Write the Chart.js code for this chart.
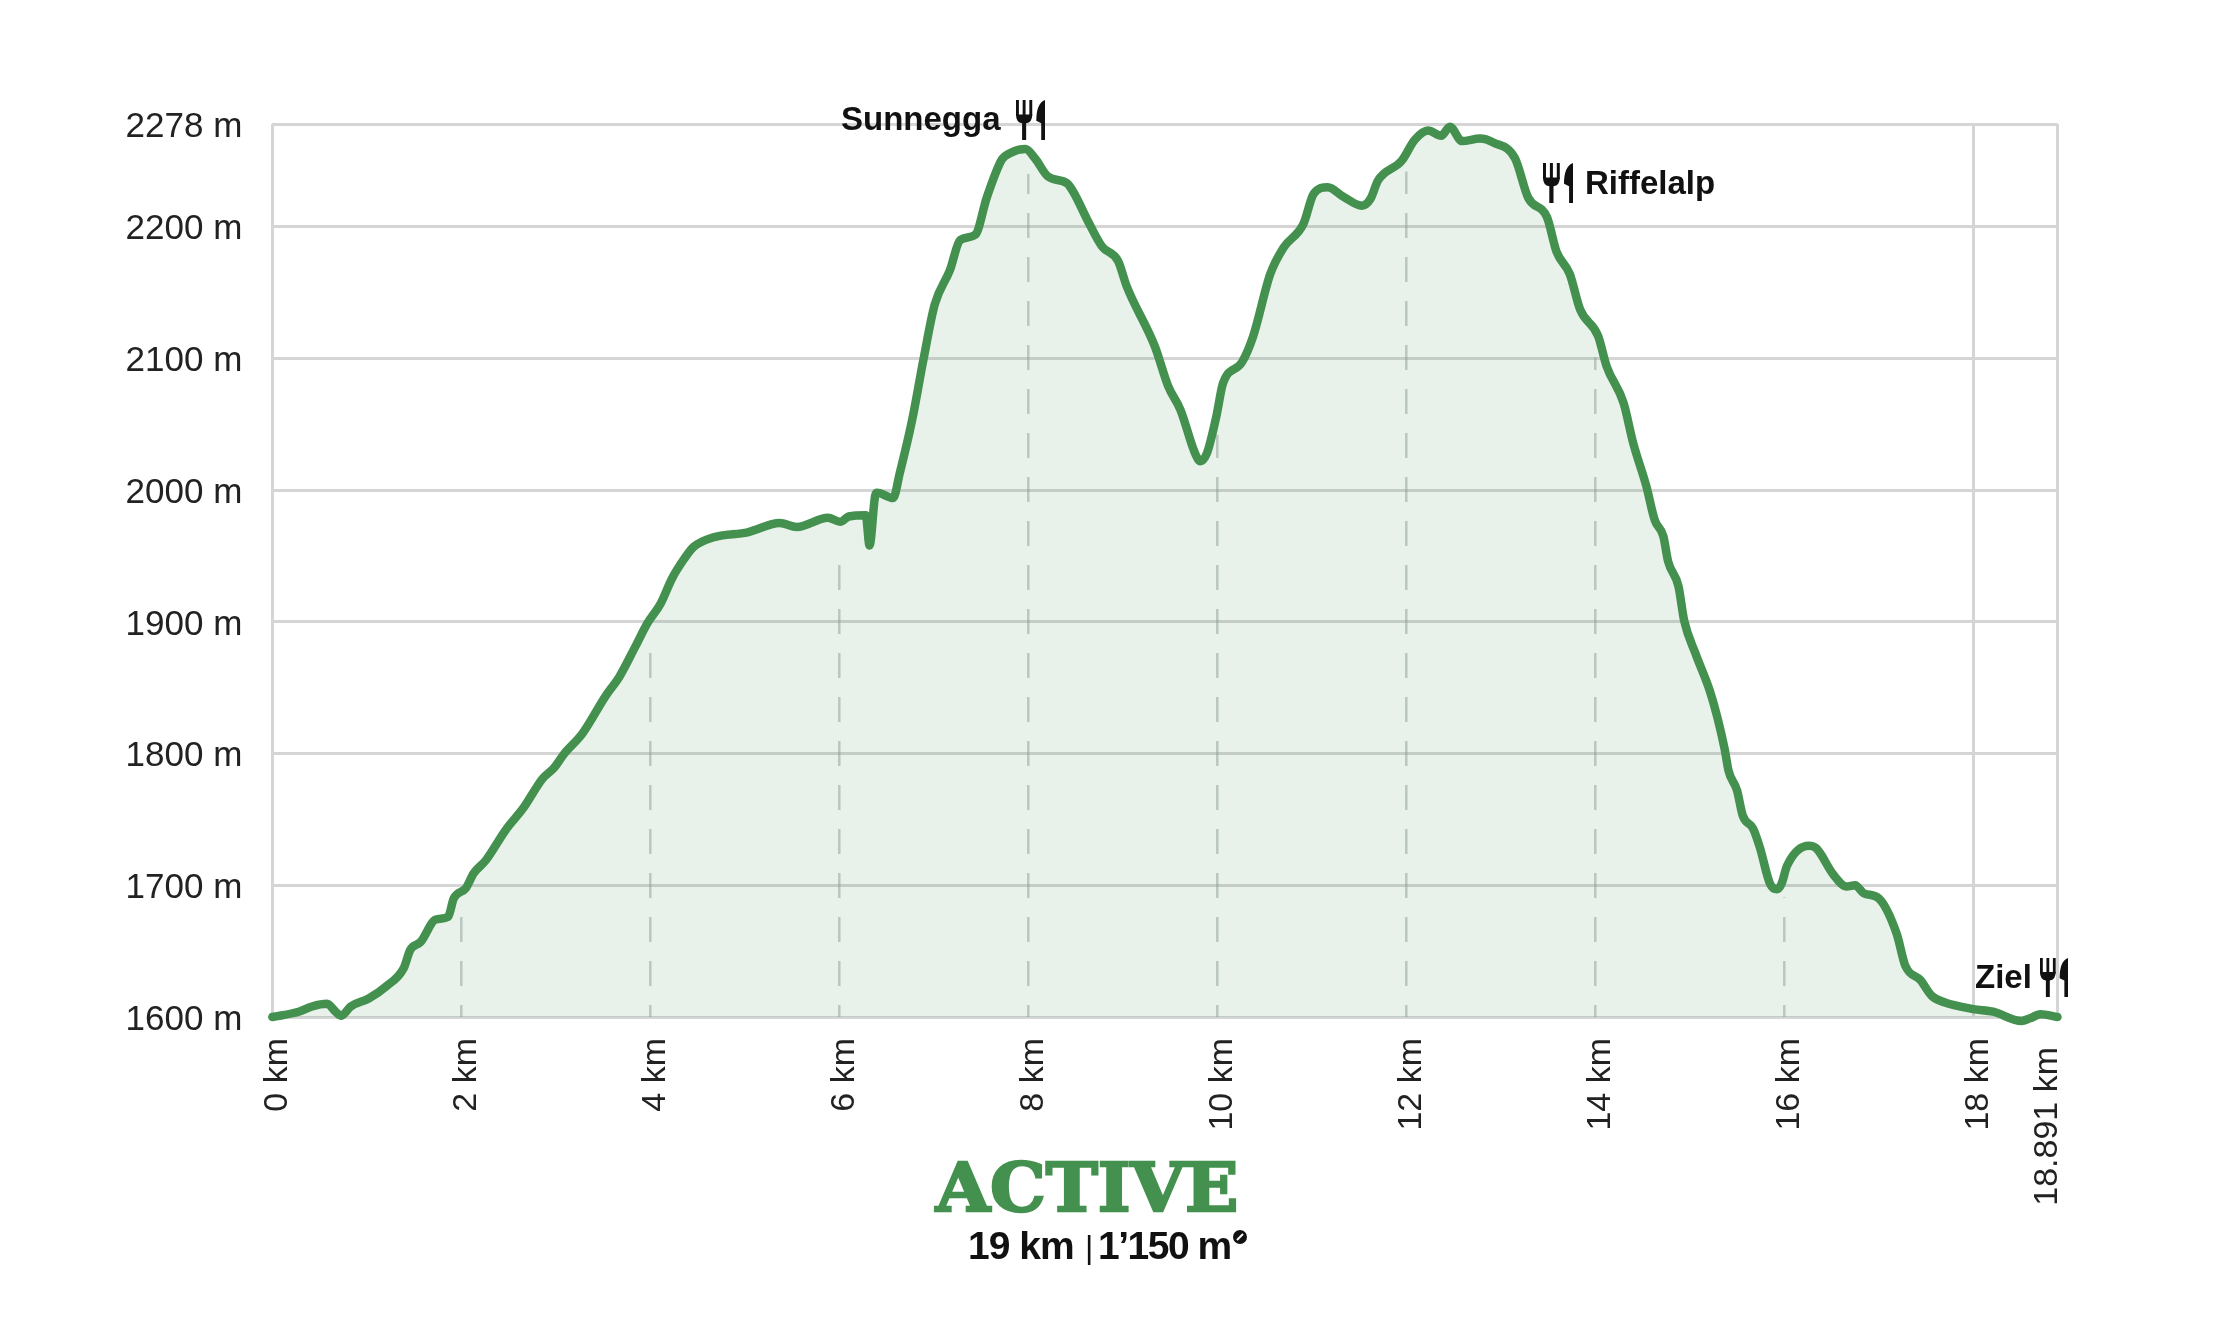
<!DOCTYPE html>
<html>
<head>
<meta charset="utf-8">
<title>Active</title>
<script src="https://cdn.jsdelivr.net/npm/chart.js@4"></script>
<style>
  html, body { margin: 0; background: #fff; }
  #wrap { width: 2214px; height: 1319px; }
</style>
</head>
<body>
<div id="wrap"><canvas id="profile"></canvas></div>
<script>
// elevation profile
const distanceKm = [0, 0.28, 0.42, 0.58, 0.67, 0.73, 0.83, 1.02, 1.2, 1.39, 1.46, 1.57, 1.73, 1.86, 1.92, 2.05, 2.13, 2.26, 2.47, 2.66, 2.86, 2.98, 3.09, 3.28, 3.53, 3.67, 3.84, 3.97, 4.11, 4.23, 4.36, 4.46, 4.66, 5.03, 5.37, 5.55, 5.88, 6.01, 6.1, 6.28, 6.32, 6.38, 6.4, 6.57, 6.64, 6.77, 6.89, 7.01, 7.17, 7.28, 7.44, 7.56, 7.72, 7.81, 7.97, 8.07, 8.21, 8.41, 8.48, 8.64, 8.78, 8.95, 9.04, 9.34, 9.48, 9.61, 9.77, 9.82, 9.89, 9.99, 10.06, 10.26, 10.38, 10.56, 10.7, 10.91, 11.02, 11.17, 11.33, 11.53, 11.62, 11.7, 11.95, 12.09, 12.23, 12.37, 12.46, 12.59, 12.78, 12.92, 13.15, 13.29, 13.49, 13.59, 13.73, 13.84, 14.03, 14.12, 14.3, 14.4, 14.54, 14.63, 14.72, 14.77, 14.88, 14.94, 15.06, 15.21, 15.29, 15.37, 15.41, 15.5, 15.56, 15.67, 15.74, 15.85, 15.92, 15.97, 16.03, 16.26, 16.34, 16.52, 16.66, 16.75, 16.84, 17, 17.19, 17.28, 17.44, 17.56, 17.7, 18, 18.21, 18.51, 18.6, 18.71, 18.891];
const elevationM = [1600, 1604, 1608, 1610, 1604, 1601, 1608, 1614, 1623, 1637, 1651, 1657, 1674, 1676, 1690, 1698, 1709, 1719, 1742, 1759, 1781, 1789, 1800, 1815, 1844, 1858, 1881, 1899, 1914, 1933, 1948, 1957, 1964, 1968, 1975, 1972, 1979, 1976, 1980, 1981, 1958, 1996, 1998, 1994, 2013, 2053, 2099, 2141, 2167, 2190, 2194, 2222, 2251, 2256, 2259, 2252, 2238, 2233, 2226, 2203, 2185, 2174, 2155, 2109, 2079, 2061, 2027, 2022, 2028, 2056, 2081, 2097, 2117, 2164, 2184, 2202, 2225, 2230, 2223, 2216, 2221, 2235, 2250, 2266, 2273, 2269, 2276, 2265, 2267, 2264, 2252, 2222, 2207, 2181, 2164, 2137, 2117, 2094, 2066, 2036, 2003, 1977, 1965, 1946, 1927, 1901, 1876, 1848, 1828, 1803, 1787, 1772, 1753, 1743, 1729, 1701, 1697, 1701, 1715, 1730, 1728, 1708, 1699, 1700, 1694, 1690, 1663, 1639, 1628, 1616, 1611, 1606, 1604, 1597, 1599, 1602, 1600];

const xTickValues = [0, 2, 4, 6, 8, 10, 12, 14, 16, 18, 18.891];
const yTickValues = [1600, 1700, 1800, 1900, 2000, 2100, 2200, 2278];
const solidKm = [0, 18, 18.891];

// dashed drop lines under the curve
const dropKm = [2, 4, 6, 8, 10, 12, 14, 16];
const dropTopM = [1677, 1884, 1957, 2240, 2042, 2242, 2101, 1691];

const GREEN = '#44914f';
const GRID = '#d5d5d5';

const dropSets = dropKm.map((km, i) => ({
    data: [{ x: km, y: 1600 }, { x: km, y: dropTopM[i] }],
    borderColor: 'rgba(150,160,155,0.5)',
    borderWidth: 2.5,
    borderDash: [25, 19],
    borderDashOffset: 13,
    pointRadius: 0,
    fill: false,
    order: 2
}));

// fork and knife icon, x/y is the top left corner
function drawCutlery(c, x, y, w, h) {
    c.save();
    c.fillStyle = '#111';
    const fw = w * 0.56;
    const t = w * 0.1;
    c.fillRect(x, y, t, h * 0.4);
    c.fillRect(x + fw / 2 - t / 2, y, t, h * 0.4);
    c.fillRect(x + fw - t, y, t, h * 0.4);
    c.beginPath();
    c.moveTo(x, y + h * 0.36);
    c.lineTo(x + fw, y + h * 0.36);
    c.quadraticCurveTo(x + fw, y + h * 0.56, x + fw / 2 + t * 0.7, y + h * 0.58);
    c.lineTo(x + fw / 2 + t * 0.7, y + h);
    c.lineTo(x + fw / 2 - t * 0.7, y + h);
    c.lineTo(x + fw / 2 - t * 0.7, y + h * 0.58);
    c.quadraticCurveTo(x, y + h * 0.56, x, y + h * 0.36);
    c.fill();
    c.beginPath();
    c.moveTo(x + w, y);
    c.lineTo(x + w, y + h);
    c.lineTo(x + w - t * 1.3, y + h);
    c.lineTo(x + w - t * 1.3, y + h * 0.58);
    c.lineTo(x + w * 0.7, y + h * 0.52);
    c.quadraticCurveTo(x + w * 0.7, y + h * 0.08, x + w, y);
    c.fill();
    c.restore();
}

const labelsPlugin = {
    id: 'labels',
    afterDraw(chart) {
        const c = chart.ctx;
        const xs = chart.scales.x;
        c.save();
        c.textBaseline = 'middle';

        // last tick label sits apart from the others
        c.save();
        c.translate(xs.getPixelForValue(18.891) - 10, 1047);
        c.rotate(-Math.PI / 2);
        c.textAlign = 'right';
        c.fillStyle = '#222';
        c.font = '34px "Liberation Sans"';
        c.fillText('18.891 km', 0, 0);
        c.restore();

        // places
        c.fillStyle = '#111';
        c.font = 'bold 33px "Liberation Sans"';
        c.textAlign = 'left';
        c.fillText('Sunnegga', 841, 121);
        drawCutlery(c, 1016, 100, 29, 40);
        drawCutlery(c, 1543, 163, 30, 40);
        c.fillText('Riffelalp', 1585, 185);
        c.fillText('Ziel', 1975, 979);
        drawCutlery(c, 2040, 958, 28, 39);

        // caption
        c.save();
        c.translate(1087, 1193);
        c.scale(1.03, 1);
        c.fillStyle = GREEN;
        c.strokeStyle = GREEN;
        c.lineWidth = 2.5;
        c.font = 'bold 68px "DejaVu Serif"';
        c.textAlign = 'center';
        c.fillText('ACTIVE', 0, 0);
        c.strokeText('ACTIVE', 0, 0);
        c.restore();

        c.fillStyle = '#111';
        c.textAlign = 'left';
        c.textBaseline = 'alphabetic';
        c.font = 'bold 39px "Liberation Sans"';
        c.letterSpacing = '-1px';
        c.fillText('19 km', 968, 1259);
        c.letterSpacing = '-1.5px';
        c.fillText('1’150 m', 1098, 1259);
        c.letterSpacing = '0px';
        c.font = '32px "Liberation Sans"';
        c.fillText('|', 1085, 1258);

        // small ascent badge after the metres
        c.beginPath();
        c.arc(1240, 1237, 7, 0, Math.PI * 2);
        c.fill();
        c.strokeStyle = '#fff';
        c.lineWidth = 2;
        c.beginPath();
        c.moveTo(1237, 1240);
        c.lineTo(1243, 1234);
        c.stroke();
        c.restore();
    }
};

new Chart(document.getElementById('profile'), {
    type: 'line',
    plugins: [labelsPlugin],
    data: {
        datasets: [{
            data: distanceKm.map((km, i) => ({ x: km, y: elevationM[i] })),
            borderColor: GREEN,
            borderWidth: 8.5,
            backgroundColor: 'rgba(68,150,90,0.12)',
            fill: 'start',
            cubicInterpolationMode: 'monotone',
            pointRadius: 0,
            clip: false,
            borderCapStyle: 'round',
            borderJoinStyle: 'round',
            order: 1
        }, ...dropSets]
    },
    options: {
        responsive: true,
        maintainAspectRatio: false,
        animation: false,
        layout: { padding: { left: 0, right: 156.5, top: 124, bottom: 0 } },
        plugins: { legend: { display: false }, tooltip: { enabled: false } },
        scales: {
            x: {
                type: 'linear',
                min: 0,
                max: 18.891,
                afterBuildTicks(s) { s.ticks = xTickValues.map(v => ({ value: v })); },
                afterFit(s) { s.height = 302; },
                border: { display: false },
                grid: {
                    drawTicks: false,
                    lineWidth: 3,
                    color: ctx => solidKm.includes(ctx.tick.value) ? GRID : 'transparent'
                },
                ticks: {
                    autoSkip: false,
                    minRotation: 90,
                    maxRotation: 90,
                    padding: 21,
                    labelOffset: 5,
                    color: '#222',
                    font: { family: '"Liberation Sans"', size: 34 },
                    callback: v => v === 18.891 ? '' : v + ' km'
                }
            },
            y: {
                min: 1600,
                max: 2278,
                afterBuildTicks(s) { s.ticks = yTickValues.map(v => ({ value: v })); },
                afterFit(s) { s.width = 272.3; },
                border: { display: false },
                grid: { drawTicks: false, lineWidth: 3, color: GRID },
                ticks: {
                    padding: 30,
                    labelOffset: 3,
                    color: '#222',
                    font: { family: '"Liberation Sans"', size: 35 },
                    callback: v => v + ' m'
                }
            }
        }
    }
});
</script>
</body>
</html>
